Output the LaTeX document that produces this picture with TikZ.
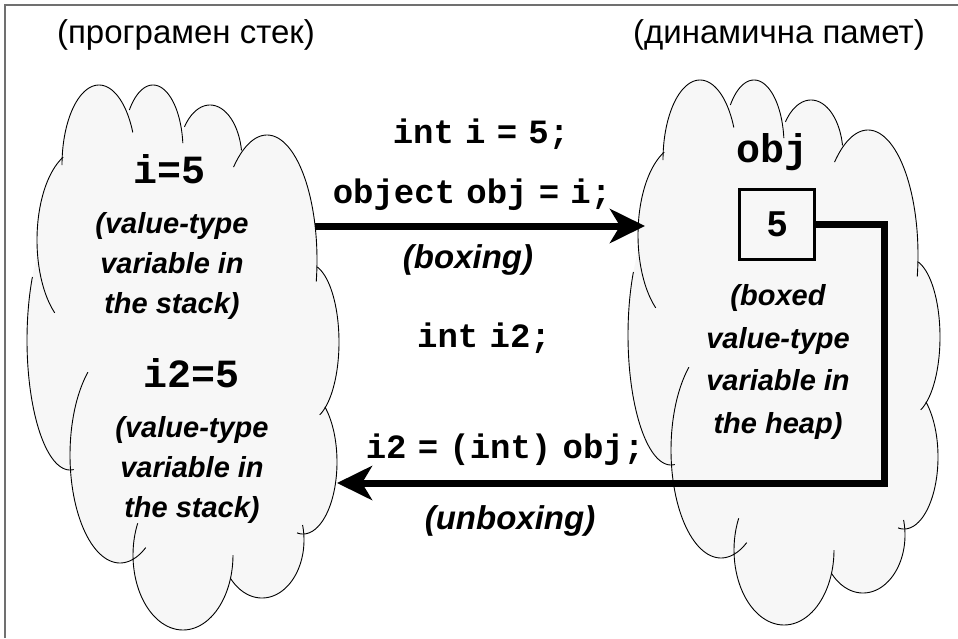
\documentclass[tikz,border=0pt]{standalone}
\usepackage{fontspec}
\setmainfont{Liberation Sans}
\newfontfamily\codefont{Liberation Mono}[WordSpace=0.55]
\usetikzlibrary{arrows.meta, positioning, calc}

\definecolor{bubblegray}{HTML}{F7F7F7}
\definecolor{framegray}{HTML}{707070}

% puffs of the cloud: centre x / centre y / x radius / y radius / from / to
\newcommand\bubblelist{99/165/37/80/180/336, 153/150/30/65/218/354,
  210/160/32/55/217/350, 267/260/50/125/228/370, 309/342/30/78/-74/69,
  303/462/34/72/-50/100, 262/540/42/58/-15/139, 183/555/50/75/0/205,
  120/455/50/108/59/230, 70/340/43/130/85/209, 80/240/43/90/126/247}

\tikzset{
  title/.style={font=\fontsize{33}{37}\selectfont, anchor=base},
  code/.style={font=\codefont\bfseries\fontsize{34}{40}\selectfont, anchor=base},
  bigcode/.style={font=\codefont\bfseries\fontsize{40}{48}\selectfont, anchor=base},
  note/.style={font=\bfseries\itshape\fontsize{29}{40}\selectfont, align=center, anchor=base},
  arrownote/.style={font=\bfseries\itshape\fontsize{33}{40}\selectfont, anchor=base},
  conn/.style={line width=7pt, -{Stealth[length=35pt, width=34pt, inset=10pt]}},
  pics/bubble/.style={code={
    \foreach \cx/\cy/\rx/\ry/\ta/\tb in \bubblelist
      \fill[bubblegray] (\cx,\cy) ellipse[x radius=\rx, y radius=\ry];
    \fill[bubblegray] (100,170) -- (150,150) -- (210,165) -- (270,200) -- (305,300)
      -- (300,450) -- (255,540) -- (183,555) -- (120,460) -- (70,340) -- (80,240) -- cycle;
    \foreach \cx/\cy/\rx/\ry/\ta/\tb in \bubblelist
      \draw[line width=0.9pt] plot[domain=\ta:\tb, samples=60, variable=\ang]
        ({\cx+\rx*cos(\ang)}, {\cy+\ry*sin(\ang)});
  }}
}

\begin{document}
\begin{tikzpicture}[x=1pt, y=-1pt]
\useasboundingbox (0,0) rectangle (958,638);
\draw[framegray, line width=1.3pt] (5,638) -- (5,5) -- (958,5);

% the two memory areas
\pic at (0,0) {bubble};
\pic at (601,-5) {bubble};

\node[title] (stacktitle) at (186,43) {(програмен стек)};
\node[title] (heaptitle) at (779,43) {(динамична памет)};

% stack (a note's base is the base of its last line)
\node[bigcode] (ival) at (170,183) {i=5};
\node[note] (inote) at (172,313) {(value-type\\variable in\\the stack)};
\node[bigcode] (itwoval) at (192,387) {i2=5};
\node[note] (itwonote) at (192,517) {(value-type\\variable in\\the stack)};

% heap
\node[bigcode] (objname) at (772,162) {obj};
\node[draw, line width=3pt, minimum width=75pt, minimum height=70pt,
  font=\bfseries\fontsize{36}{40}\selectfont] (objval) at (777,224) {5};
\node[note, font=\bfseries\itshape\fontsize{29}{42.5}\selectfont] (objnote) at (778,433)
  {(boxed\\value-type\\variable in\\the heap)};

% code between them
\node[code] (decl) at (481,143) {int i = 5;};
\node[code] (boxcode) at (472,203) {object obj = i;};
\node[arrownote] (boxing) at (468,268) {(boxing)};
\node[code] (decltwo) at (484,347) {int i2;};
\node[code] (unboxcode) at (505,458) {i2 = (int) obj;};
\node[arrownote] (unboxing) at (510,529) {(unboxing)};

\coordinate (stackout) at (315,226);
\coordinate (heapin) at (645,226);
\coordinate (stackin) at (337,483);

\draw[conn] (stackout) -- (heapin);
\draw[conn, line join=miter] (objval.east) -- ++(68,0) |- (stackin);
\end{tikzpicture}
\end{document}
